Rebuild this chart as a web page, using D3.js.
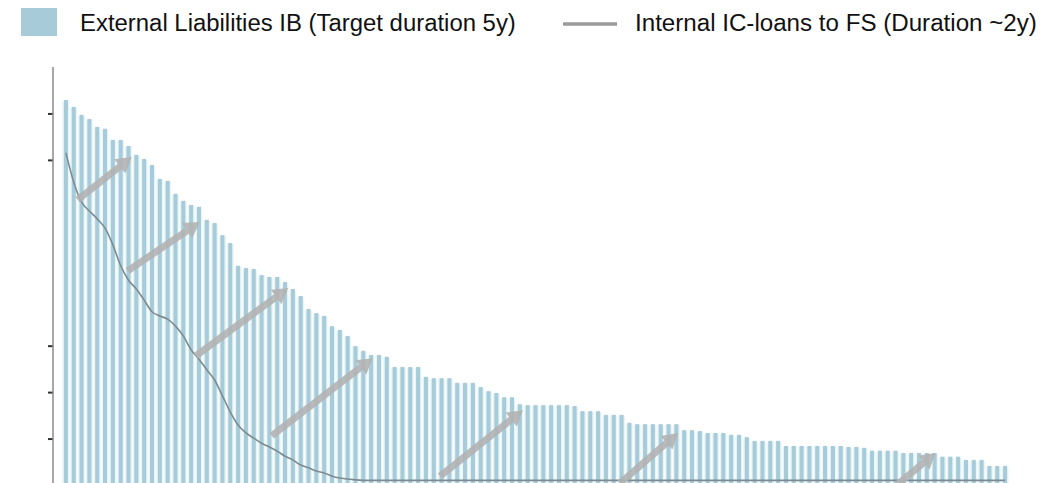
<!DOCTYPE html>
<html>
<head>
<meta charset="utf-8">
<script src="https://cdn.jsdelivr.net/npm/d3@7"></script>
<style>
  body { margin: 0; background: #fff; }
  svg { display: block; }
  .legend text { font-family: "Liberation Sans", Arial, sans-serif; fill: #111; }
</style>
</head>
<body>
<div id="chart"></div>
<script>
// External liabilities, one bar per period
const liabilities = [
  8.29, 8.14, 7.97, 7.88, 7.71, 7.67, 7.43, 7.43, 7.30, 7.11,
  7.02, 6.89, 6.59, 6.55, 6.27, 6.12, 6.03, 5.99, 5.71, 5.64,
  5.38, 5.21, 4.72, 4.67, 4.65, 4.52, 4.48, 4.48, 4.37, 4.22,
  4.07, 3.79, 3.70, 3.64, 3.42, 3.34, 3.21, 2.99, 2.89, 2.80,
  2.80, 2.76, 2.54, 2.54, 2.54, 2.54, 2.33, 2.30, 2.30, 2.30,
  2.20, 2.20, 2.20, 2.11, 2.02, 1.98, 1.89, 1.89, 1.74, 1.72,
  1.72, 1.72, 1.72, 1.72, 1.72, 1.70, 1.59, 1.59, 1.59, 1.51,
  1.51, 1.51, 1.34, 1.31, 1.31, 1.31, 1.31, 1.31, 1.31, 1.18,
  1.18, 1.16, 1.12, 1.12, 1.12, 1.08, 1.08, 1.03, 0.95, 0.95,
  0.95, 0.95, 0.84, 0.84, 0.84, 0.84, 0.84, 0.84, 0.84, 0.84,
  0.82, 0.82, 0.80, 0.74, 0.74, 0.74, 0.74, 0.69, 0.69, 0.69,
  0.69, 0.69, 0.61, 0.61, 0.61, 0.54, 0.54, 0.54, 0.41, 0.41,
  0.41
];

// Internal IC-loans, first periods, then flat near zero
const icLoansHead = [
  7.15, 6.52, 6.09, 5.90, 5.73, 5.53, 5.17, 4.72, 4.41, 4.22,
  3.98, 3.73, 3.64, 3.57, 3.42, 3.21, 2.91, 2.71, 2.48, 2.26,
  1.92, 1.57, 1.29, 1.12, 1.01, 0.90, 0.82, 0.73, 0.62, 0.54,
  0.43, 0.37, 0.30, 0.26, 0.19, 0.15, 0.13, 0.11
];
const icLoansTail = 0.1;

// refinancing arrows: [from index, from value, to index, to value]
const arrows = [
  [1.5, 6.14, 8.4, 7.06],
  [7.9, 4.61, 17.1, 5.66],
  [16.6, 2.78, 28.4, 4.24],
  [26.3, 1.06, 39.2, 2.73],
  [47.8, 0.19, 58.4, 1.61],
  [70.8, 0.04, 78.2, 1.12],
  [106.3, 0.02, 111.1, 0.69]
];

const yTicks = [1, 2, 3, 7, 8];

const legendLabels = [
  "External Liabilities IB (Target duration 5y)",
  "Internal IC-loans to FS (Duration ~2y)"
];

const barColor = "#a7cbd9";
const width = 1064, height = 483;

const svg = d3.select("#chart").append("svg")
  .attr("width", width)
  .attr("height", height);

const idx = d3.range(liabilities.length);
const icLoans = idx.map(i => i < icLoansHead.length ? icLoansHead[i] : icLoansTail);

const x = d3.scaleBand().domain(idx).range([62, 1009]).paddingInner(0.48).paddingOuter(0.24);
const xi = d3.scaleLinear()
  .domain([0, idx.length - 1])
  .range([x(0) + x.bandwidth() / 2, x(idx.length - 1) + x.bandwidth() / 2]);
const y = d3.scaleLinear().domain([0, 9]).range([485, 67]);

// pale halo behind bars
svg.append("g").selectAll("rect")
  .data(liabilities)
  .join("rect")
  .attr("x", (d, i) => xi(i) - x.step() * 0.45)
  .attr("width", x.step() * 0.9)
  .attr("y", d => y(d) + 1)
  .attr("height", d => y(0) - y(d))
  .attr("fill", "#e9f6f8");

svg.append("g").selectAll("rect")
  .data(liabilities)
  .join("rect")
  .attr("x", (d, i) => x(i))
  .attr("width", x.bandwidth())
  .attr("y", d => y(d))
  .attr("height", d => y(0) - y(d))
  .attr("fill", barColor);

// y axis
const yAxis = svg.append("g")
  .attr("transform", "translate(53,0)")
  .call(d3.axisLeft(y).tickValues(yTicks).tickSize(5).tickFormat(""));
yAxis.select(".domain").remove();
yAxis.selectAll(".tick line").attr("stroke", "#333").attr("stroke-width", 2);
svg.append("line")
  .attr("x1", 53).attr("x2", 53)
  .attr("y1", y(9)).attr("y2", height)
  .attr("stroke", "#8a8a8a").attr("stroke-width", 1.5);

// IC-loans line
const line = d3.line().x((d, i) => xi(i)).y(d => y(d)).curve(d3.curveMonotoneX);
svg.append("path")
  .datum(icLoans)
  .attr("d", line)
  .attr("fill", "none")
  .attr("stroke", "#7d8b90")
  .attr("stroke-width", 1.6);

// arrows
function arrowPath(a) {
  const x0 = xi(a[0]), y0 = y(a[1]), x1 = xi(a[2]), y1 = y(a[3]);
  const len = Math.hypot(x1 - x0, y1 - y0);
  const ux = (x1 - x0) / len, uy = (y1 - y0) / len;
  const nx = -uy, ny = ux;
  const sw = 3.5, hw = 9, hl = 15;
  const bx = x1 - ux * hl, by = y1 - uy * hl;
  const pts = [
    [x0 + nx * sw, y0 + ny * sw],
    [bx + nx * sw, by + ny * sw],
    [bx + nx * hw, by + ny * hw],
    [x1, y1],
    [bx - nx * hw, by - ny * hw],
    [bx - nx * sw, by - ny * sw],
    [x0 - nx * sw, y0 - ny * sw]
  ];
  return "M" + pts.map(p => p.join(",")).join("L") + "Z";
}
svg.append("g").selectAll("path")
  .data(arrows)
  .join("path")
  .attr("d", arrowPath)
  .attr("fill", "#b3b3b3")
  .attr("opacity", 0.9);

// legend
const legend = svg.append("g").attr("class", "legend");
legend.append("rect")
  .attr("x", 21).attr("y", 8).attr("width", 36).attr("height", 28)
  .attr("fill", barColor);
legend.append("line")
  .attr("x1", 563).attr("x2", 617).attr("y1", 24).attr("y2", 24)
  .attr("stroke", "#9a9a9a").attr("stroke-width", 3.5);

const legendPos = [[80, 436], [635, 402]];
legendLabels.forEach((t, k) => {
  const txt = legend.append("text")
    .attr("x", legendPos[k][0]).attr("y", 31)
    .style("font-size", "20px")
    .text(t);
  const w = txt.node().getComputedTextLength();
  txt.style("font-size", (20 * legendPos[k][1] / w).toFixed(2) + "px");
});
</script>
</body>
</html>
